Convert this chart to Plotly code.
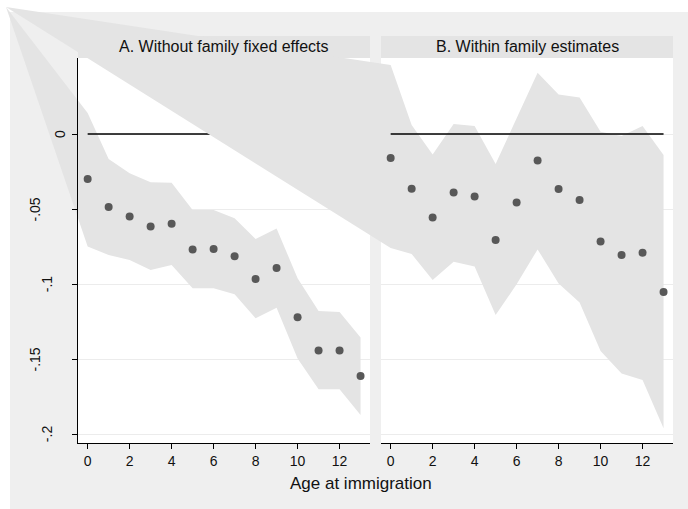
import plotly.graph_objects as go

# ---------------- data ----------------
ages = list(range(14))

a_coef = [-0.030, -0.0487, -0.055, -0.0616, -0.0598, -0.0769, -0.0767,
          -0.0815, -0.0967, -0.0893, -0.1222, -0.1444, -0.1444, -0.1613]
a_upper = [0.014, -0.0167, -0.0262, -0.0322, -0.0324, -0.0507, -0.0507,
           -0.0562, -0.070, -0.0629, -0.0962, -0.118, -0.1187, -0.1356]
a_lower = [-0.075, -0.0807, -0.084, -0.0907, -0.0873, -0.1029, -0.1029,
           -0.1069, -0.1229, -0.1158, -0.1496, -0.1702, -0.1702, -0.1873]

b_coef = [-0.016, -0.0364, -0.0556, -0.0389, -0.0416, -0.0707, -0.0456,
          -0.0176, -0.0367, -0.044, -0.0716, -0.0807, -0.0791, -0.1053]
b_upper = [0.046, 0.006, -0.0136, 0.0067, 0.0053, -0.020, 0.010,
           0.0409, 0.0264, 0.0244, 0.0016, -0.0013, 0.0053, -0.014]
b_lower = [-0.076, -0.080, -0.0973, -0.0851, -0.0884, -0.1207, -0.1002,
           -0.0769, -0.0996, -0.1124, -0.1447, -0.1596, -0.164, -0.1962]

zero_line_x = [0, 13]
zero_line_y = [0, 0]

x_tickvals = [0, 2, 4, 6, 8, 10, 12]
y_tickvals = [-0.2, -0.15, -0.1, -0.05, 0]
y_ticktext = ["-.2", "-.15", "-.1", "-.05", "0"]

panel_titles = ["A. Without family fixed effects", "B. Within family estimates"]
x_title = "Age at immigration"

# ---------------- layout constants (pixels) ----------------
W, H = 688, 509
PANEL_A = (78, 370)
PANEL_B = (381, 673)
P_TOP, P_BOT = 58, 443
STRIP_TOP = 36
REGION = (10, 12)          # graph region top-left corner
APEX = (6, 7)              # corner the broken polygons are anchored to
XR = [-0.46, 13.45]
YR = [-0.206, 0.0507]

CI_COL = "#e4e4e4"
REGION_COL = "#efefef"
GRID_COL = "#ececec"
DOT_COL = "#585858"
TXT_COL = "#111111"
FONT = "Liberation Sans, Arial, sans-serif"


def dom_x(p):
    return [p[0] / W, p[1] / W]


DOM_Y = [(H - P_BOT) / H, (H - P_TOP) / H]


def full_range(r, d):
    span = (r[1] - r[0]) / (d[1] - d[0])
    lo = r[0] - d[0] * span
    return [lo, lo + span]


fig = go.Figure()

# subplot 1 / 2 : gridlines of panels A and B
for k in ("", "2"):
    fig.add_trace(go.Scatter(x=[], y=[], xaxis="x" + k, yaxis="y" + k,
                             showlegend=False, hoverinfo="skip"))


def ci_polygon(xr_full, yr_full, upper, lower):
    ax = xr_full[0] + APEX[0] / W * (xr_full[1] - xr_full[0])
    ay = yr_full[0] + (H - APEX[1]) / H * (yr_full[1] - yr_full[0])
    xs = [ax] + ages + ages[::-1] + [ax]
    ys = [ay] + upper + lower[::-1] + [ay]
    return xs, ys


# overlay subplots 3 (panel A marks) and 4 (panel B marks)
overlay_ranges = {}
for k, panel, up, lo, coef in (("3", PANEL_A, a_upper, a_lower, a_coef),
                               ("4", PANEL_B, b_upper, b_lower, b_coef)):
    xr_full = full_range(XR, dom_x(panel))
    yr_full = full_range(YR, DOM_Y)
    overlay_ranges[k] = (xr_full, yr_full)
    px, py = ci_polygon(xr_full, yr_full, up, lo)
    fig.add_trace(go.Scatter(x=px, y=py, mode="lines", fill="toself",
                             fillcolor=CI_COL, line=dict(width=0, color=CI_COL),
                             xaxis="x" + k, yaxis="y" + k, showlegend=False,
                             hoverinfo="skip"))
    fig.add_trace(go.Scatter(x=zero_line_x, y=zero_line_y, mode="lines",
                             line=dict(color="black", width=1.4),
                             xaxis="x" + k, yaxis="y" + k, showlegend=False,
                             hoverinfo="skip"))
    fig.add_trace(go.Scatter(x=ages, y=coef, mode="markers",
                             marker=dict(color=DOT_COL, size=8, line=dict(width=0)),
                             xaxis="x" + k, yaxis="y" + k, showlegend=False))

# subplot 5 / 6 : axis lines and ticks
for k in ("5", "6"):
    fig.add_trace(go.Scatter(x=[], y=[], xaxis="x" + k, yaxis="y" + k,
                             showlegend=False, hoverinfo="skip"))

lay = dict(
    width=W, height=H,
    margin=dict(l=0, r=0, t=0, b=0),
    paper_bgcolor="white",
    plot_bgcolor="rgba(0,0,0,0)",
    showlegend=False,
    font=dict(family=FONT, color=TXT_COL, size=14),
)

# grid subplots
for k, panel in (("", PANEL_A), ("2", PANEL_B)):
    lay["xaxis" + k] = dict(domain=dom_x(panel), range=XR, visible=False,
                            anchor="y" + k, fixedrange=True)
    lay["yaxis" + k] = dict(domain=DOM_Y, range=YR, anchor="x" + k,
                            tickvals=y_tickvals, showgrid=True,
                            gridcolor=GRID_COL, gridwidth=1,
                            showticklabels=False, ticks="", showline=False,
                            zeroline=False, fixedrange=True)
# overlay subplots
for k in ("3", "4"):
    xr_full, yr_full = overlay_ranges[k]
    lay["xaxis" + k] = dict(domain=[0, 1], range=xr_full, visible=False,
                            anchor="y" + k, fixedrange=True)
    lay["yaxis" + k] = dict(domain=[0, 1], range=yr_full, visible=False,
                            anchor="x" + k, fixedrange=True)
# axis-line subplots
for k, panel in (("5", PANEL_A), ("6", PANEL_B)):
    lay["xaxis" + k] = dict(domain=dom_x(panel), range=XR, anchor="y" + k,
                            tickvals=x_tickvals, ticks="outside", ticklen=5,
                            tickwidth=1, tickcolor="black", showline=True,
                            linecolor="black", linewidth=1.2, showgrid=False,
                            zeroline=False, tickfont=dict(size=14, color=TXT_COL),
                            fixedrange=True)
lay["yaxis5"] = dict(domain=DOM_Y, range=YR, anchor="x5", tickvals=y_tickvals,
                     ticks="outside", ticklen=5, tickwidth=1, tickcolor="black",
                     showline=True, linecolor="black", linewidth=1.2,
                     showgrid=False, zeroline=False, showticklabels=False,
                     fixedrange=True)
lay["yaxis6"] = dict(domain=DOM_Y, range=YR, anchor="x6", visible=False,
                     fixedrange=True)

fig.update_layout(**lay)

# background shapes: graph region, plot regions, strips
shapes = [
    dict(type="rect", xref="paper", yref="paper", layer="below",
         x0=REGION[0] / W, x1=1, y0=0, y1=(H - REGION[1]) / H,
         fillcolor=REGION_COL, line=dict(width=0)),
]
for panel in (PANEL_A, PANEL_B):
    shapes.append(dict(type="rect", xref="paper", yref="paper", layer="below",
                       x0=panel[0] / W, x1=panel[1] / W, y0=DOM_Y[0], y1=DOM_Y[1],
                       fillcolor="white", line=dict(width=0)))
    shapes.append(dict(type="rect", xref="paper", yref="paper", layer="below",
                       x0=panel[0] / W, x1=panel[1] / W, y0=DOM_Y[1],
                       y1=(H - STRIP_TOP) / H,
                       fillcolor=CI_COL, line=dict(width=0)))
fig.update_layout(shapes=shapes)

annotations = []
for title, panel in zip(panel_titles, (PANEL_A, PANEL_B)):
    annotations.append(dict(text=title, xref="paper", yref="paper",
                            x=(panel[0] + panel[1]) / 2 / W,
                            y=(H - (STRIP_TOP + P_TOP) / 2) / H,
                            xanchor="center", yanchor="middle", showarrow=False,
                            font=dict(size=16, color=TXT_COL)))
annotations.append(dict(text=x_title, xref="paper", yref="paper",
                        x=361 / W, y=(H - 483) / H, xanchor="center",
                        yanchor="middle", showarrow=False,
                        font=dict(size=17, color=TXT_COL)))

# rotated y tick labels (offset grows with label width, as in the original)
CHAR_W = {"-": 0.333, ".": 0.278}
for val, txt in zip(y_tickvals, y_ticktext):
    w_em = sum(CHAR_W.get(c, 0.556) for c in txt)
    cx = 60 - 21 * (w_em - 0.556)
    annotations.append(dict(text=txt, xref="paper", yref="y5", x=cx / W, y=val,
                            xanchor="center", yanchor="middle", textangle=-90,
                            showarrow=False, font=dict(size=14, color=TXT_COL)))
fig.update_layout(annotations=annotations)

fig.write_html("out.html",
               config={"displayModeBar": False, "staticPlot": True},
               post_script="document.body.style.margin='0';"
                           "document.body.style.overflow='hidden';")
